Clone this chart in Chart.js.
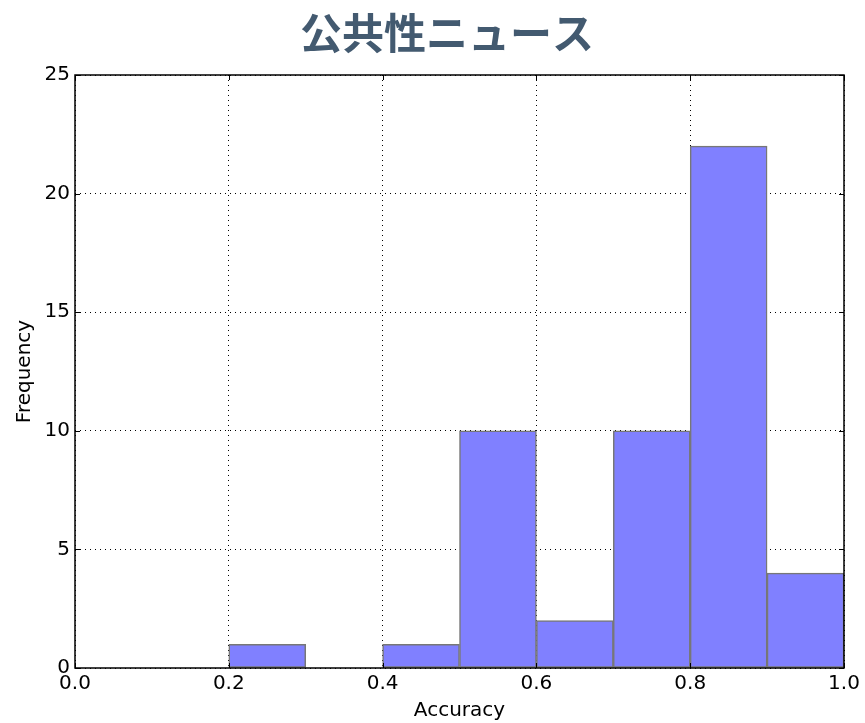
<!DOCTYPE html>
<html>
<head>
<meta charset="utf-8">
<script src="https://cdn.jsdelivr.net/npm/chart.js@4.4.1/dist/chart.umd.min.js"></script>
<style>
    html, body { margin: 0; padding: 0; background: #ffffff; }
    #wrap { width: 865px; height: 723px; }
</style>
</head>
<body>
<div id="wrap"><canvas id="hist"></canvas></div>
<script>
// Histogram of accuracy per item, 10 bins between 0 and 1
const titleText = '公共性ニュース';
const binEdges = [0.0, 0.1, 0.2, 0.3, 0.4, 0.5, 0.6, 0.7, 0.8, 0.9, 1.0];
const binCounts = [0, 0, 1, 0, 1, 10, 2, 10, 22, 4];
const xTicks = [0.0, 0.2, 0.4, 0.6, 0.8, 1.0];
const yTicks = [0, 5, 10, 15, 20, 25];

const FONT = "'DejaVu Sans', sans-serif";

// bars sit on the centre of each bin
const histData = binCounts.map((c, i) => ({
    x: (binEdges[i] + binEdges[i + 1]) / 2,
    y: c
}));

/**
 * Frame around the plot area, inward tick marks and the title.
 */
const frameAndTitle = {
    id: 'frameAndTitle',
    afterDraw(chart) {
        const { ctx, chartArea: a, scales } = chart;
        ctx.save();
        ctx.strokeStyle = '#000000';
        ctx.lineWidth = 1.5;
        ctx.strokeRect(a.left, a.top, a.right - a.left, a.bottom - a.top);

        ctx.lineWidth = 1;
        ctx.beginPath();
        xTicks.forEach(v => {
            const px = Math.round(scales.x.getPixelForValue(v)) + 0.5;
            ctx.moveTo(px, a.bottom); ctx.lineTo(px, a.bottom - 5);
            ctx.moveTo(px, a.top); ctx.lineTo(px, a.top + 5);
        });
        yTicks.forEach(v => {
            const py = Math.round(scales.y.getPixelForValue(v)) + 0.5;
            ctx.moveTo(a.left, py); ctx.lineTo(a.left + 5, py);
            ctx.moveTo(a.right, py); ctx.lineTo(a.right - 5, py);
        });
        ctx.stroke();

        ctx.fillStyle = '#435a70';
        ctx.font = "bold 42px 'Noto Sans CJK JP', sans-serif";
        ctx.textAlign = 'center';
        ctx.textBaseline = 'middle';
        ctx.fillText(titleText, 447, 33);
        ctx.restore();
    }
};

new Chart(document.getElementById('hist'), {
    type: 'bar',
    data: {
        datasets: [{
            data: histData,
            backgroundColor: '#8080ff',
            borderColor: '#777777',
            borderWidth: 1.5,
            borderSkipped: false,
            barPercentage: 1.0,
            categoryPercentage: 1.0
        }]
    },
    options: {
        responsive: true,
        maintainAspectRatio: false,
        animation: false,
        layout: { padding: { top: 75, right: 21, left: 0, bottom: 0 } },
        plugins: {
            legend: { display: false },
            title: { display: false },
            tooltip: { enabled: false }
        },
        scales: {
            x: {
                type: 'linear',
                min: 0,
                max: 1,
                offset: false,
                z: 1,
                afterFit: s => { s.height = 55; },
                afterBuildTicks: s => { s.ticks = xTicks.map(v => ({ value: v })); },
                grid: {
                    offset: false,
                    color: '#000000',
                    lineWidth: 1,
                    drawTicks: false
                },
                border: { display: false, dash: [1, 4] },
                ticks: {
                    color: '#000000',
                    padding: 4,
                    maxRotation: 0,
                    font: { family: FONT, size: 20 },
                    callback: v => Number(v).toFixed(1)
                },
                title: {
                    display: true,
                    text: 'Accuracy',
                    color: '#000000',
                    padding: { top: 0, bottom: 0 },
                    font: { family: FONT, size: 20 }
                }
            },
            y: {
                min: 0,
                max: 25,
                z: 1,
                afterFit: s => { s.width = 75; },
                afterBuildTicks: s => { s.ticks = yTicks.map(v => ({ value: v })); },
                grid: {
                    color: '#000000',
                    lineWidth: 1,
                    drawTicks: false
                },
                border: { display: false, dash: [1, 4] },
                ticks: {
                    color: '#000000',
                    padding: 5,
                    font: { family: FONT, size: 20 }
                },
                title: {
                    display: true,
                    text: 'Frequency',
                    color: '#000000',
                    padding: { top: 13, bottom: 0 },
                    font: { family: FONT, size: 20 }
                }
            }
        }
    },
    plugins: [frameAndTitle]
});
</script>
</body>
</html>
